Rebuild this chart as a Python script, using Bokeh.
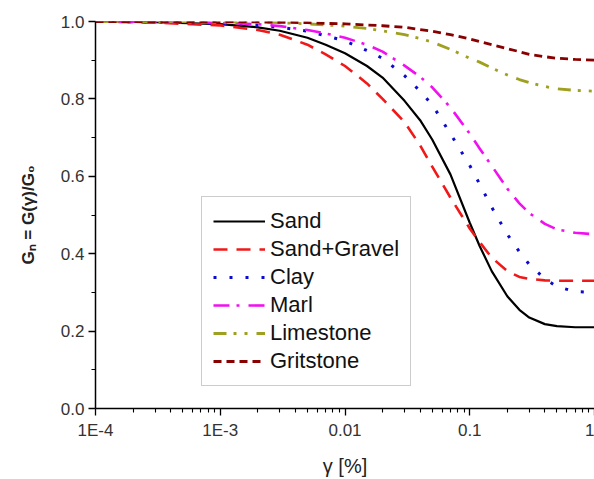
from bokeh.plotting import figure
from bokeh.models import Range1d, FixedTicker, Legend, LegendItem
from bokeh.embed import file_html
from bokeh.resources import INLINE

# strain values (gamma, %)
gamma = [1e-4, 3e-4, 1e-3, 2e-3, 3e-3, 5e-3, 7e-3, 0.01, 0.015, 0.02, 0.03, 0.04,
         0.05, 0.07, 0.1, 0.12, 0.15, 0.2, 0.25, 0.3, 0.4, 0.5, 0.7, 1.0]

sand =        [1.0, 0.998, 0.993, 0.985, 0.976, 0.958, 0.94, 0.918, 0.885, 0.855, 0.795, 0.745,
               0.695, 0.605, 0.48, 0.42, 0.355, 0.29, 0.255, 0.235, 0.218, 0.213, 0.21, 0.21]
sand_gravel = [1.0, 0.997, 0.99, 0.978, 0.966, 0.94, 0.915, 0.885, 0.84, 0.80, 0.74, 0.68,
               0.625, 0.545, 0.465, 0.43, 0.39, 0.355, 0.34, 0.335, 0.331, 0.33, 0.33, 0.33]
clay =        [1.0, 0.999, 0.995, 0.99, 0.985, 0.975, 0.963, 0.95, 0.925, 0.905, 0.86, 0.82,
               0.785, 0.71, 0.628, 0.58, 0.52, 0.45, 0.405, 0.372, 0.335, 0.315, 0.302, 0.30]
marl =        [1.0, 0.999, 0.997, 0.993, 0.988, 0.978, 0.969, 0.958, 0.94, 0.922, 0.886, 0.857,
               0.83, 0.778, 0.71, 0.672, 0.627, 0.568, 0.53, 0.505, 0.477, 0.463, 0.454, 0.45]
limestone =   [1.0, 1.0, 0.999, 0.998, 0.997, 0.994, 0.991, 0.988, 0.982, 0.976, 0.966, 0.956,
               0.947, 0.928, 0.905, 0.895, 0.88, 0.862, 0.85, 0.842, 0.832, 0.826, 0.822, 0.82]
gritstone =   [1.0, 1.0, 1.0, 0.999, 0.998, 0.997, 0.995, 0.994, 0.991, 0.989, 0.985, 0.979,
               0.975, 0.966, 0.955, 0.948, 0.94, 0.93, 0.922, 0.915, 0.909, 0.905, 0.902, 0.90]

names = ["Sand", "Sand+Gravel", "Clay", "Marl", "Limestone", "Gritstone"]
x_ticks = [1e-4, 1e-3, 0.01, 0.1, 1.0]
x_tick_labels = ["1E-4", "1E-3", "0.01", "0.1", "1"]
y_ticks = [0.0, 0.2, 0.4, 0.6, 0.8, 1.0]
y_minor = [0.1, 0.3, 0.5, 0.7, 0.9]

p = figure(width=594, height=479, x_axis_type="log",
           x_range=Range1d(1e-4, 1.0), y_range=Range1d(0.0, 1.0),
           output_backend="svg", toolbar_location=None,
           min_border_left=95, min_border_right=0, min_border_top=21, min_border_bottom=67)
p.outline_line_color = None
p.xgrid.visible = False
p.ygrid.visible = False
p.background_fill_color = "white"

FONT = "Liberation Sans"

x_minor = [m * d for d in [1e-4, 1e-3, 1e-2, 1e-1] for m in range(2, 10)]
p.xaxis.ticker = FixedTicker(ticks=x_ticks, minor_ticks=x_minor)
p.xaxis.major_label_overrides = {t: l for t, l in zip(x_ticks, x_tick_labels)}
p.yaxis.ticker = FixedTicker(ticks=y_ticks, minor_ticks=y_minor)
p.yaxis.major_label_overrides = {t: "%.1f" % t for t in y_ticks}

for ax in (p.xaxis, p.yaxis):
    ax.axis_line_color = "black"
    ax.axis_line_width = 1.5
    ax.major_tick_line_color = "black"
    ax.minor_tick_line_color = "black"
    ax.major_tick_line_width = 1.3
    ax.minor_tick_line_width = 1.1
    ax.major_tick_in = 0
    ax.major_tick_out = 7
    ax.minor_tick_in = 0
    ax.minor_tick_out = 4
    ax.major_label_text_font = FONT
    ax.major_label_text_font_size = "17px"
    ax.major_label_text_color = "#333333"
    ax.axis_label_text_font = FONT
    ax.axis_label_text_color = "#222222"

p.xaxis.major_label_standoff = 5
p.yaxis.major_label_standoff = 4
p.xaxis.axis_label = "γ [%]"
p.xaxis.axis_label_text_font_size = "20px"
p.xaxis.axis_label_text_font_style = "normal"
p.xaxis.axis_label_standoff = 12
p.yaxis.axis_label = "Gₙ = G(γ)/G₀"
p.yaxis.axis_label_text_font_size = "17px"
p.yaxis.axis_label_text_font_style = "bold"
p.yaxis.axis_label_standoff = 20

series = [sand, sand_gravel, clay, marl, limestone, gritstone]
colors = ["black", "#f01818", "#0a0ad0", "#f010f0", "#a0a020", "#880000"]
dashes = ["solid", "14 9", "3 13", "16 7 3 9", "13 7 3 8 3 9", "8 5"]
widths = [2.2, 2.6, 3.0, 2.6, 2.8, 2.8]

items = []
for name, ys, c, d, w in zip(names, series, colors, dashes, widths):
    r = p.line(gamma, ys, line_color=c, line_dash=d, line_width=w, line_join="round")
    items.append(LegendItem(label=name, renderers=[r]))

legend = Legend(items=items, location=(106, 22), orientation="vertical",
                label_text_font=FONT, label_text_font_size="22px", label_text_color="#111111",
                label_height=22, glyph_height=22, glyph_width=52, label_standoff=5,
                spacing=2, padding=11, margin=0,
                border_line_color="#999999", border_line_width=1.2,
                background_fill_color="white", background_fill_alpha=1.0)
p.add_layout(legend, "center")

open("out.html", "w").write(file_html(p, INLINE))
